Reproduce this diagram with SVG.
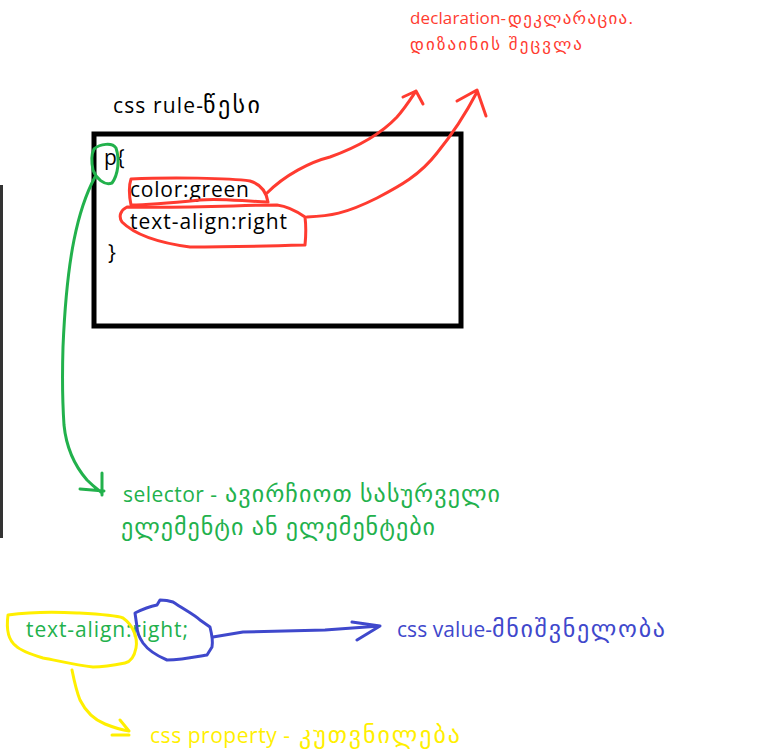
<svg xmlns="http://www.w3.org/2000/svg" width="780" height="754" viewBox="0 0 780 754">
<style>
text{font-family:"Open Sans","DejaVu Sans",sans-serif;font-size:21px}
.ka{font-size:24px}
.kr{font-size:20px}
.k{fill:#000}
.r{fill:#ff3b30;font-size:17px}
.g{fill:#22b14c}
.b{fill:#3f48cc}
.y{fill:#ffef00}
.s{fill:none;stroke-width:3;stroke-linecap:round;stroke-linejoin:round}
.sr{stroke:#ff3b30}.sg{stroke:#22b14c}.sb{stroke:#3f48cc}.sy{stroke:#ffef00}
</style>
<rect x="0" y="185" width="3" height="353" fill="#333"/>
<g id="rule">
<text class="k" x="113" y="113" textLength="90" lengthAdjust="spacing">css rule-</text>
<text class="k ka" x="203" y="113" textLength="57" lengthAdjust="spacing">წესი</text>
<rect x="94" y="134" width="367" height="192" fill="none" stroke="#000" stroke-width="5"/>
<text class="k" x="104" y="165">p{</text>
<text class="k" x="130" y="197" textLength="119" lengthAdjust="spacing">color:green</text>
<text class="k" x="130" y="229" textLength="157" lengthAdjust="spacing">text-align:right</text>
<text class="k" x="108" y="260">}</text>
</g>
<g id="declaration">
<text class="r" x="410" y="24" textLength="96" lengthAdjust="spacing">declaration-</text>
<text class="r kr" x="508" y="24" textLength="125" lengthAdjust="spacing">დეკლარაცია.</text>
<text class="r kr" x="410" y="50" textLength="172" lengthAdjust="spacing">დიზაინის შეცვლა</text>
</g>
<g id="selector">
<text class="g" x="123" y="502" textLength="94" lengthAdjust="spacing">selector -</text>
<text class="g ka" x="225" y="502" textLength="275" lengthAdjust="spacing">ავირჩიოთ სასურველი</text>
<text class="g ka" x="121" y="535" textLength="314" lengthAdjust="spacing">ელემენტი ან ელემენტები</text>
</g>
<g id="example">
<text class="g" x="26" y="637" textLength="162" lengthAdjust="spacing">text-align:right;</text>
</g>
<g id="value">
<text class="b" x="397" y="637" textLength="95" lengthAdjust="spacing">css value-</text>
<text class="b ka" x="492" y="637" textLength="173" lengthAdjust="spacing">მნიშვნელობა</text>
</g>
<g id="property">
<text class="y" x="150" y="743" textLength="140" lengthAdjust="spacing">css property -</text>
<text class="y ka" x="299" y="743" textLength="161" lengthAdjust="spacing">კუთვნილება</text>
</g>
<g id="connectors">
<path class="s sr" d="M131,179 C170,177 230,178 250,181 C260,184 266,190 268,202 C240,201 220,198 200,200 C170,203 150,205 131,205 C129,195 129,185 131,179 Z"/>
<path class="s sr" d="M127,207 C121,210 118,216 122,222 C135,235 160,243 190,247 C230,247 270,246 305,245 C306,235 306,225 305,217 C295,210 285,206 277,205 C240,205 200,208 127,207 Z"/>
<path class="s sr" d="M267,193 C285,175 310,162 330,157 C355,148 380,135 397,117 C405,108 410,100 416,91 M403,97 L416,91 L423,104"/>
<path class="s sr" d="M307,217 C330,216 345,214 377,198 C400,186 420,175 437,153 C450,137 465,115 477,92 M457,101 L477,90 L486,116"/>
<path class="s sg" d="M94,149 C100,144 112,142 116,148 C120,160 118,175 112,183 C104,186 96,178 93,170 C91,160 92,153 94,149 Z"/>
<path class="s sg" d="M95,177 C88,190 80,210 74,240 C68,270 65,300 63,347 C62,380 63,410 64,425 C66,445 74,465 87,480 C93,486 97,489 102,493 M102,473 L102,495 M80,489 L104,491"/>
<path class="s sy" d="M8,615 C30,612 60,612 77,613 C95,614 115,615 123,618 C133,625 138,638 136,648 C134,658 130,662 125,663 C110,666 100,667 93,667 C75,665 55,660 43,658 C30,654 20,650 16,646 C8,640 6,630 8,615 Z"/>
<path class="s sy" d="M72,670 C74,680 76,690 80,700 C86,712 95,720 105,724 C115,728 122,730 129,731 M120,720 L129,731 M112,735 L129,735"/>
<path class="s sb" d="M135,613 C145,608 152,606 157,605 L160,600 C165,600 170,601 173,602 C185,610 195,615 200,620 L210,627 C212,635 213,642 212,647 L207,655 C190,658 180,660 167,660 C155,655 148,650 143,643 C139,637 137,632 137,627 Z"/>
<path class="s sb" d="M213,637 L243,632 L325,630 L380,626 M352,622 L380,626 L357,640"/>
</g>
</svg>
